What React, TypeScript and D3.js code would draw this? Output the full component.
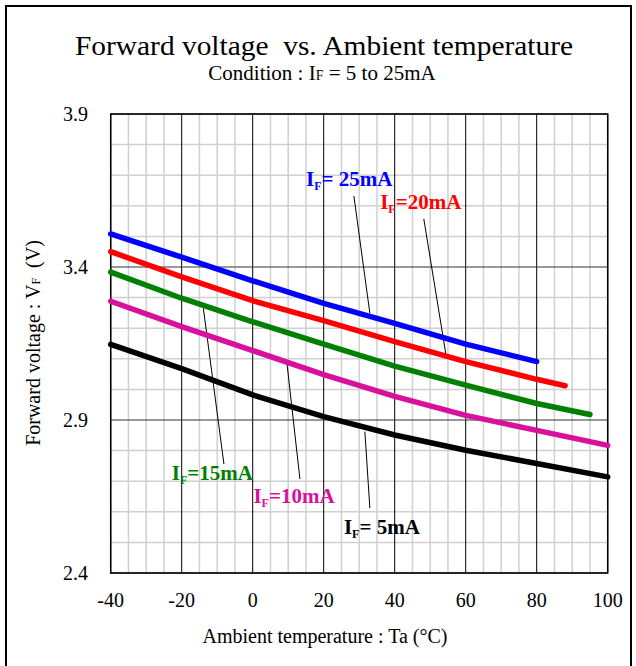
import React from "react";
import * as d3 from "d3";

const xTicks = [-40, -20, 0, 20, 40, 60, 80, 100];
const yTicks = [2.4, 2.9, 3.4, 3.9];

const if25: [number, number][] = [[-40, 3.508], [-20, 3.432], [0, 3.355], [20, 3.281], [40, 3.216], [60, 3.148], [80, 3.091]];
const if20: [number, number][] = [[-40, 3.45], [-20, 3.368], [0, 3.29], [20, 3.225], [40, 3.156], [60, 3.091], [80, 3.033], [88, 3.012]];
const if15: [number, number][] = [[-40, 3.383], [-20, 3.298], [0, 3.221], [20, 3.148], [40, 3.076], [60, 3.014], [80, 2.954], [95, 2.918]];
const if10: [number, number][] = [[-40, 3.288], [-20, 3.205], [0, 3.127], [20, 3.048], [40, 2.977], [60, 2.915], [80, 2.866], [100, 2.817]];
const if5: [number, number][] = [[-40, 3.147], [-20, 3.068], [0, 2.982], [20, 2.911], [40, 2.851], [60, 2.801], [80, 2.758], [100, 2.714]];

const seriesNames = ["25mA", "20mA", "15mA", "10mA", "5mA"];
const seriesColors = ["#0000ff", "#ff0000", "#008000", "#d8119c", "#000000"];
const seriesData = [if25, if20, if15, if10, if5];
// label anchor [T, V]
const labelPos: [number, number][] = [[15.0, 3.665], [35.9, 3.589], [-22.8, 2.704], [0.2, 2.628], [25.7, 2.527]];
const labelSep = ["= ", "=", "=", "=", "= "];
const leaders: [number, number, number, number][] = [
  [28.5, 3.632, 33.0, 3.249],
  [48.2, 3.557, 54.6, 3.102],
  [-13.9, 3.265, -8.1, 2.756],
  [9.6, 3.091, 13.3, 2.707],
  [31.6, 2.862, 33.0, 2.612],
];

const W = 636;
const H = 666;
const FONT = "'Liberation Serif', 'Times New Roman', serif";

export default function App() {
  const x = d3.scaleLinear().domain([-40, 100]).range([110.7, 607.7]);
  const y = d3.scaleLinear().domain([2.4, 3.9]).range([573, 114]);
  const line = d3
    .line<[number, number]>()
    .x((d) => x(d[0]))
    .y((d) => y(d[1]));

  const minorX = d3.range(-40, 100.01, 5).filter((v) => v % 20 !== 0);
  const minorY = d3.range(24, 39.01, 1).filter((v) => (v - 24) % 5 !== 0).map((v) => v / 10);

  return (
    <svg width={W} height={H} style={{ display: "block", position: "absolute", left: 0, top: 0 }}>
      <rect x={0} y={0} width={W} height={H} fill="#fff" />
      <rect x={6} y={6} width={625} height={680} fill="none" stroke="#000" strokeWidth={2} />

      <text x={324} y={55} textAnchor="middle" fontFamily={FONT} fontSize={27} fill="#000" textLength={498} lengthAdjust="spacingAndGlyphs">
        Forward voltage{"\u00a0"} vs. Ambient temperature
      </text>
      <text x={322} y={80} textAnchor="middle" fontFamily={FONT} fontSize={21} fill="#000">
        Condition : I<tspan fontSize={14}>F</tspan> = 5 to 25mA
      </text>

      {/* minor grid */}
      {minorX.map((v) => (
        <line key={"mx" + v} x1={x(v)} x2={x(v)} y1={y(2.4)} y2={y(3.9)} stroke="#d0d0d0" strokeWidth={1.5} />
      ))}
      {minorY.map((v) => (
        <line key={"my" + v} x1={x(-40)} x2={x(100)} y1={y(v)} y2={y(v)} stroke="#d0d0d0" strokeWidth={1.5} />
      ))}
      {/* major grid */}
      {xTicks.map((v) => (
        <line key={"Mx" + v} x1={x(v)} x2={x(v)} y1={y(2.4)} y2={y(3.9)} stroke="#000" strokeWidth={1} />
      ))}
      {yTicks.map((v) => (
        <line key={"My" + v} x1={x(-40)} x2={x(100)} y1={y(v)} y2={y(v)} stroke="#333" strokeWidth={1} />
      ))}
      <rect x={x(-40)} y={y(3.9)} width={x(100) - x(-40)} height={y(2.4) - y(3.9)} fill="none" stroke="#000" strokeWidth={1.5} />

      {/* tick labels */}
      {xTicks.map((v) => (
        <text key={"xt" + v} x={x(v)} y={607} textAnchor="middle" fontFamily={FONT} fontSize={20} fill="#000">
          {v}
        </text>
      ))}
      {yTicks.map((v) => (
        <text key={"yt" + v} x={88} y={y(v) + 7} textAnchor="end" fontFamily={FONT} fontSize={20} fill="#000">
          {v.toFixed(1)}
        </text>
      ))}

      <text x={325} y={643} textAnchor="middle" fontFamily={FONT} fontSize={20} fill="#000">
        Ambient temperature : Ta (°C)
      </text>
      <text transform={`translate(40,${343}) rotate(-90)`} textAnchor="middle" fontFamily={FONT} fontSize={20} fill="#000">
        Forward voltage : V<tspan fontSize={12}>F</tspan>{"\u00a0"} (V)
      </text>

      {/* leader lines */}
      {leaders.map((l, i) => (
        <line key={"ld" + i} x1={x(l[0])} y1={y(l[1])} x2={x(l[2])} y2={y(l[3])} stroke="#000" strokeWidth={1} />
      ))}

      {/* series */}
      {seriesData
        .slice()
        .reverse()
        .map((s, ri) => {
          const i = seriesData.length - 1 - ri;
          return (
            <path key={"s" + i} d={line(s) || ""} fill="none" stroke={seriesColors[i]} strokeWidth={5.5} strokeLinecap="round" strokeLinejoin="round" />
          );
        })}

      {/* series labels */}
      {seriesNames.map((n, i) => (
        <text key={"lb" + i} x={x(labelPos[i][0])} y={y(labelPos[i][1])} fontFamily={FONT} fontSize={21} fontWeight="bold" fill={seriesColors[i]}>
          I
          <tspan fontSize={12} dy={4}>F</tspan>
          <tspan dy={-4}>{labelSep[i] + n}</tspan>
        </text>
      ))}
    </svg>
  );
}
